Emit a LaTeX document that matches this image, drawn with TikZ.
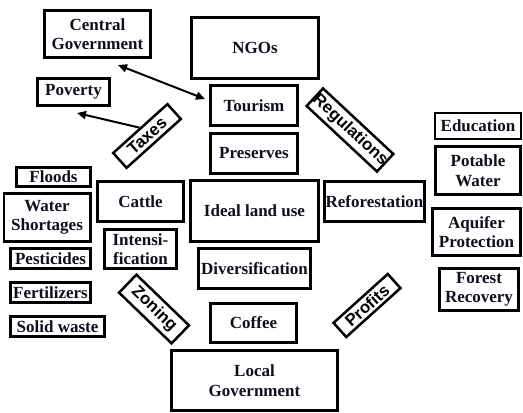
\documentclass[tikz,border=0pt]{standalone}
\usepackage{fontspec}
\setmainfont{Liberation Serif}
\newfontfamily\labelsans{Liberation Sans}
\usetikzlibrary{arrows.meta,calc}
\definecolor{ink}{RGB}{14,14,34}
\tikzset{
  box/.style={draw=black, line width=2.6pt, fill=white, inner sep=0pt,
    align=center, text=ink, font=\fontsize{17}{19.5}\selectfont\bfseries},
  sz/.style 2 args={minimum width=#1pt-2.6pt, minimum height=#2pt-2.6pt},
  tag/.style={draw=black, line width=2.5pt, fill=white, inner sep=0pt,
    text=black, font=\labelsans\fontsize{16.8}{18}\selectfont\bfseries},
  link/.style={line width=2pt, draw=black,
    arrows={-Triangle[length=9pt,width=8pt]}},
}
\begin{document}
\begin{tikzpicture}[x=1pt,y=-1pt]
\useasboundingbox (0,0) rectangle (523,413);

% central column
\node[box, sz={130}{64}] (ngo) at (255,48) {NGOs};
\node[box, sz={90}{43}] (tour) at (254,105.5) {Tourism};
\node[box, sz={90}{43}] (pres) at (254,153.5) {Preserves};
\node[box, sz={131}{64}] (ideal) at (254.5,211) {Ideal land use};
\node[box, sz={115}{43}] (div) at (254.5,268.5) {Diversification};
\node[box, sz={89}{42}] (cof) at (253.5,323) {Coffee};
\node[box, sz={169}{63}] (lg) at (254.5,380.5) {Local\\Government};

% upper left
\node[box, sz={109}{50}] (cg) at (97.5,34) {Central\\Government};
\node[box, sz={75}{30}] (pov) at (73.5,92) {Poverty};

% left side
\node[box, sz={89}{43}] (cattle) at (140.5,201.5) {Cattle};
\node[box, sz={75}{42}] (int) at (140.5,249) {Intensi-\\fication};
\node[box, sz={77}{22}] (floods) at (53.5,177) {Floods};
\node[box, sz={89}{51}] (ws) at (47,217.5) {Water\\Shortages};
\node[box, sz={83}{23}] (pest) at (50.5,258.5) {Pesticides};
\node[box, sz={83}{23}] (fert) at (50.5,292.5) {Fertilizers};
\node[box, sz={97}{23}] (sw) at (57.5,326.5) {Solid waste};

% right side
\node[box, sz={103}{43}] (refo) at (374.5,201.5) {Reforestation};
\node[box, line width=2pt, minimum width=86pt, minimum height=26pt] (edu) at (478,126) {Education};
\node[box, sz={88}{51}] (pot) at (478,170.5) {Potable\\Water};
\node[box, sz={91}{50}] (aq) at (476.5,232) {Aquifer\\Protection};
\node[box, sz={82}{45}] (fr) at (479,289.5) {Forest\\Recovery};

% tilted labels
\node[tag, rotate=42, minimum width=73pt, minimum height=20pt] (taxes) at (147,136) {Taxes};
\node[tag, rotate=-43, minimum width=93pt, minimum height=24pt] (reg) at (350,130) {Regulations};
\node[tag, rotate=-44, minimum width=73pt, minimum height=25pt] (zon) at (154,309) {Zoning};
\node[tag, rotate=42, minimum width=73pt, minimum height=19pt] (prof) at (367,305.5) {Profits};

% connectors
\coordinate (cgend) at ($(cg.south)+(20.5,6)$);
\coordinate (tourend) at ($(tour.west)+(-4,-6.5)$);
\coordinate (povend) at ($(pov.south)+(3.5,6)$);
\draw[link, arrows={Triangle[length=9pt,width=8pt]-Triangle[length=9pt,width=8pt]}] (cgend) -- (tourend);
\draw[link] (taxes.north) -- (povend);
\end{tikzpicture}
\end{document}
